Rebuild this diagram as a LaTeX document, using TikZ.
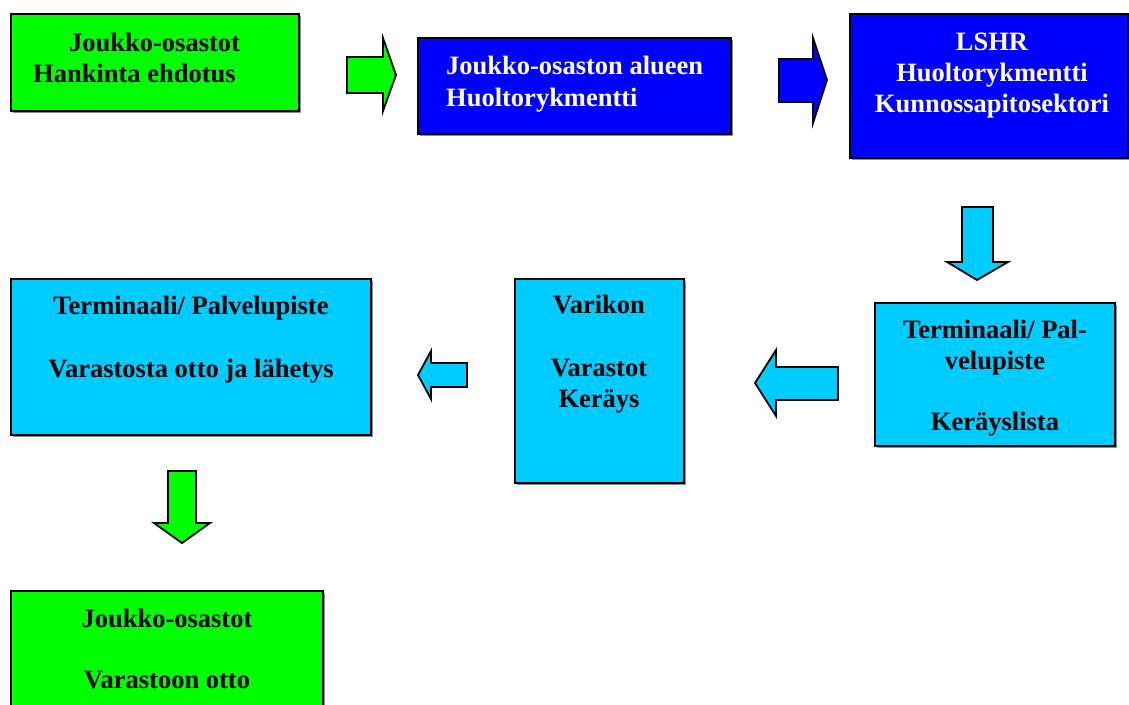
\documentclass[tikz,border=0pt]{standalone}
\usepackage{fontspec}
\setmainfont{Liberation Serif}
\definecolor{lgreen}{HTML}{00FF00}
\definecolor{dblue}{HTML}{0000FF}
\definecolor{lcyan}{HTML}{00CCFF}
\tikzset{
  boxshape/.style={draw=black, line width=1.9pt},
  shadowbox/.style={fill=black!45},
  txt/.style={font=\bfseries\fontsize{26.5}{30.5}\selectfont, inner sep=0pt, anchor=base},
  wtxt/.style={txt, text=white},
  blockarrow/.style={draw=black, line width=1.8pt, line join=miter},
}
\begin{document}
\begin{tikzpicture}[x=1pt,y=-1pt]
\useasboundingbox (0,0) rectangle (1129,704);
% shadows
\foreach \a/\b/\c/\d in {11/14/299/111, 418/38/731/134, 850/14/1129/158, 11/279/371/435, 515/279/684/483, 875/303/1115/446, 11/591/323/710}{
  \fill[shadowbox] (\a+2,\b+2) rectangle (\c+2,\d+2);
}
% boxes
\draw[boxshape, fill=lgreen] (11,14) rectangle (299,111) node[pos=0.5] (b1) {};
\draw[boxshape, fill=dblue] (418,38) rectangle (731,134) node[pos=0.5] (b2) {};
\draw[boxshape, fill=dblue] (850,14) rectangle (1128,158) node[pos=0.5] (b3) {};
\draw[boxshape, fill=lcyan] (11,279) rectangle (371,435) node[pos=0.5] (b6) {};
\draw[boxshape, fill=lcyan] (515,279) rectangle (684,483) node[pos=0.5] (b5) {};
\draw[boxshape, fill=lcyan] (875,303) rectangle (1115,446) node[pos=0.5] (b4) {};
\draw[boxshape, fill=lgreen] (11,591) rectangle (323,710) node[pos=0.5] (b7) {};
% texts
\node[txt, anchor=base west] (t1a) at (69,51) {Joukko-osastot};
\node[txt, anchor=base west] (t1b) at (33,82) {Hankinta ehdotus};
\node[wtxt, anchor=base west] (t2a) at (446,74) {Joukko-osaston alueen};
\node[wtxt, anchor=base west] (t2b) at (446,106) {Huoltorykmentti};
\node[wtxt] (t3a) at (992,50) {LSHR};
\node[wtxt] (t3b) at (992,81) {Huoltorykmentti};
\node[wtxt] (t3c) at (992,112) {Kunnossapitosektori};
\node[txt] (t4a) at (995,338) {Terminaali/ Pal-};
\node[txt] (t4b) at (995,369) {velupiste};
\node[txt] (t4c) at (995,430) {Keräyslista};
\node[txt] (t5a) at (599,313) {Varikon};
\node[txt] (t5b) at (599,376) {Varastot};
\node[txt] (t5c) at (599,407) {Keräys};
\node[txt] (t6a) at (191,314) {Terminaali/ Palvelupiste};
\node[txt] (t6b) at (191,377) {Varastosta otto ja lähetys};
\node[txt] (t7a) at (167,627) {Joukko-osastot};
\node[txt] (t7b) at (167,688) {Varastoon otto};
% block arrows
\draw[blockarrow, fill=lgreen] (347,57) -- (383,57) -- (383,38) -- (396,75) -- (383,111) -- (383,93) -- (347,93) -- cycle;
\draw[blockarrow, fill=dblue] (779,59) -- (813,59) -- (813,38) -- (827,80) -- (813,123) -- (813,102) -- (779,102) -- cycle;
\draw[blockarrow, fill=lcyan] (962,207) -- (993,207) -- (993,262) -- (1008,262) -- (977,280) -- (947,262) -- (962,262) -- cycle;
\draw[blockarrow, fill=lcyan] (838,367) -- (776,367) -- (776,350) -- (755,383) -- (776,416) -- (776,400) -- (838,400) -- cycle;
\draw[blockarrow, fill=lcyan] (467,363) -- (431,363) -- (431,351) -- (418,375) -- (431,399) -- (431,387) -- (467,387) -- cycle;
\draw[blockarrow, fill=lgreen] (168,471) -- (196,471) -- (196,523) -- (210,523) -- (182,543) -- (154,523) -- (168,523) -- cycle;
\end{tikzpicture}
\end{document}
